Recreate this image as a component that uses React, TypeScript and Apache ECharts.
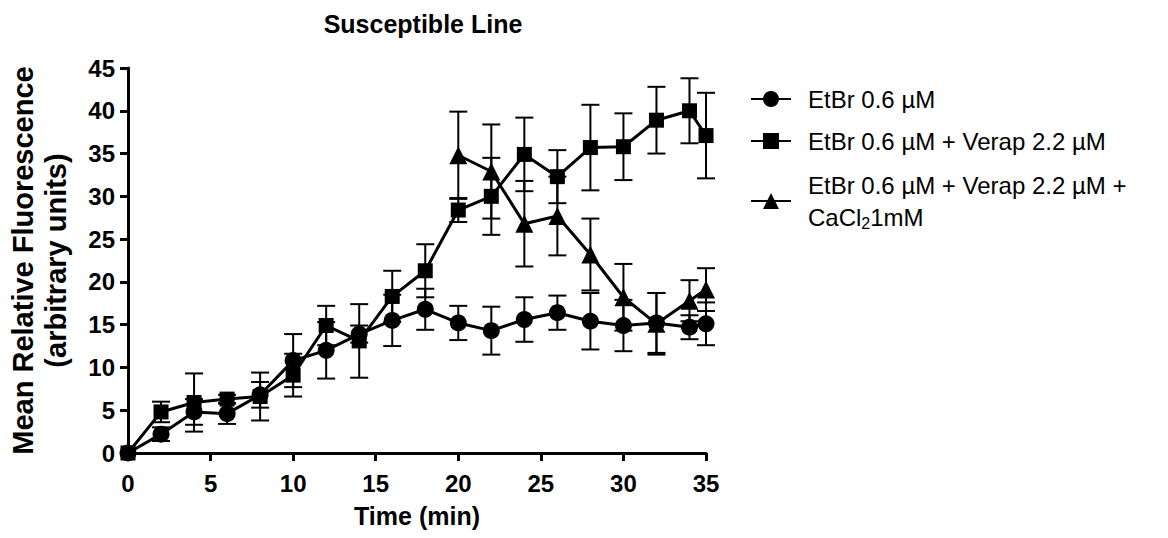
import React, { useEffect, useRef } from "react";
import * as echarts from "echarts";

const timePoints = [0, 2, 4, 6, 8, 10, 12, 14, 16, 18, 20, 22, 24, 26, 28, 30, 32, 34, 35];
const etbrMean = [0, 2.2, 4.8, 4.6, 6.8, 10.8, 12.0, 13.9, 15.5, 16.8, 15.2, 14.3, 15.6, 16.4, 15.4, 14.9, 15.2, 14.7, 15.1];
const etbrErr = [0, 0.8, 1.5, 1.2, 1.5, 3.1, 3.3, 1.0, 3.0, 2.4, 2.0, 2.8, 2.6, 2.0, 3.3, 3.0, 3.5, 1.4, 2.5];
const verapMean = [0, 4.8, 5.9, 6.3, 6.6, 9.1, 14.9, 13.1, 18.3, 21.3, 28.4, 30.0, 34.9, 32.3, 35.7, 35.8, 38.9, 40.0, 37.1];
const verapErr = [0, 1.2, 3.4, 0.5, 2.8, 2.5, 2.3, 4.3, 3.0, 3.1, 1.4, 4.5, 4.3, 3.1, 5.0, 3.9, 3.9, 3.8, 5.0];
const caTime = [20, 22, 24, 26, 28, 30, 32, 34, 35];
const caMean = [34.8, 32.9, 26.8, 27.7, 23.2, 18.2, 15.1, 17.8, 19.1];
const caErr = [5.1, 5.5, 5.0, 4.6, 4.2, 3.9, 3.6, 2.4, 2.5];
const seriesNames = [
  "EtBr 0.6 µM",
  "EtBr 0.6 µM + Verap 2.2 µM",
  "EtBr 0.6 µM + Verap 2.2 µM + CaCl₂1mM",
];
const xTicks = { min: 0, max: 35, interval: 5 };
const yTicks = { min: 0, max: 45, interval: 5 };

const FONT = "'Liberation Sans', Arial, sans-serif";

function errData(xs: number[], m: number[], e: number[]) {
  return xs.map((x, i) => [x, m[i] - e[i], m[i] + e[i]]).filter((d) => d[2] > d[1]);
}

function errorSeries(data: number[][]) {
  return {
    type: "custom",
    silent: true,
    z: 1,
    data,
    encode: { x: 0, y: [1, 2] },
    renderItem: (params: any, api: any) => {
      const x = api.value(0);
      const lo = api.coord([x, api.value(1)]);
      const hi = api.coord([x, api.value(2)]);
      const w = 9;
      const style = { stroke: "#000", lineWidth: 2 };
      return {
        type: "group",
        children: [
          { type: "line", shape: { x1: lo[0], y1: lo[1], x2: hi[0], y2: hi[1] }, style },
          { type: "line", shape: { x1: lo[0] - w, y1: lo[1], x2: lo[0] + w, y2: lo[1] }, style },
          { type: "line", shape: { x1: hi[0] - w, y1: hi[1], x2: hi[0] + w, y2: hi[1] }, style },
        ],
      };
    },
  };
}

export default function App() {
  const ref = useRef<HTMLDivElement>(null);
  useEffect(() => {
    if (!ref.current) return;
    const chart = echarts.init(ref.current, null, { renderer: "svg" });
    const lineStyle = { color: "#000", width: 3 };
    const itemStyle = { color: "#000" };
    chart.setOption({
      animation: false,
      backgroundColor: "#fff",
      title: {
        text: "Susceptible Line",
        left: 418,
        top: 6,
        textAlign: "center",
        textStyle: { fontFamily: FONT, fontWeight: "bold", fontSize: 25, color: "#000" },
      },
      legend: {
        orient: "vertical",
        left: 745,
        top: 80,
        itemWidth: 40,
        itemHeight: 20,
        itemGap: 14,
        selectedMode: false,
        data: seriesNames,
        textStyle: {
          fontFamily: FONT,
          fontSize: 24,
          color: "#000",
          padding: [0, 0, 0, 12],
          lineHeight: 28,
          rich: {
            a: { fontFamily: FONT, fontSize: 24, color: "#000", lineHeight: 32 },
            s: { fontFamily: FONT, fontSize: 16, color: "#000", padding: [12, 0, 0, 0], lineHeight: 32 },
          },
        },
        formatter: (name: string) => {
          if (name.indexOf("CaCl") >= 0) {
            return "{a|EtBr 0.6 µM + Verap 2.2 µM +}\n{a|CaCl}{s|2}{a|1mM}";
          }
          return name;
        },
      },
      grid: { left: 128, right: 462, top: 68, bottom: 85, containLabel: false },
      xAxis: {
        type: "value",
        min: xTicks.min,
        max: xTicks.max,
        interval: xTicks.interval,
        name: "Time (min)",
        nameLocation: "middle",
        nameGap: 50,
        nameTextStyle: { fontFamily: FONT, fontWeight: "bold", fontSize: 25, color: "#000" },
        axisLine: { lineStyle: { color: "#000", width: 3 } },
        axisTick: { show: true, inside: false, length: 8, lineStyle: { color: "#000", width: 3 } },
        axisLabel: { margin: 18, fontFamily: FONT, fontWeight: "bold", fontSize: 24, color: "#000" },
        splitLine: { show: false },
      },
      yAxis: {
        type: "value",
        min: yTicks.min,
        max: yTicks.max,
        interval: yTicks.interval,
        name: "Mean Relative Fluorescence\n(arbitrary units)",
        nameLocation: "middle",
        nameGap: 56,
        nameTextStyle: { fontFamily: FONT, fontWeight: "bold", fontSize: 29, color: "#000", lineHeight: 33 },
        axisLine: { lineStyle: { color: "#000", width: 3 } },
        axisTick: { show: true, inside: false, length: 8, lineStyle: { color: "#000", width: 3 } },
        axisLabel: { margin: 13, fontFamily: FONT, fontWeight: "bold", fontSize: 24, color: "#000" },
        splitLine: { show: false },
      },
      series: [
        errorSeries(errData(timePoints, etbrMean, etbrErr)),
        errorSeries(errData(timePoints, verapMean, verapErr)),
        errorSeries(errData(caTime, caMean, caErr)),
        {
          name: seriesNames[0],
          type: "line",
          z: 3,
          data: timePoints.map((x, i) => [x, etbrMean[i]]),
          symbol: "circle",
          symbolSize: 17,
          showAllSymbol: true,
          lineStyle,
          itemStyle,
        },
        {
          name: seriesNames[1],
          type: "line",
          z: 3,
          data: timePoints.map((x, i) => [x, verapMean[i]]),
          symbol: "rect",
          symbolSize: 15,
          showAllSymbol: true,
          lineStyle,
          itemStyle,
        },
        {
          name: seriesNames[2],
          type: "line",
          z: 3,
          data: caTime.map((x, i) => [x, caMean[i]]),
          symbol: "triangle",
          symbolSize: 18,
          showAllSymbol: true,
          lineStyle,
          itemStyle,
        },
      ],
    });
    return () => chart.dispose();
  }, []);
  return <div ref={ref} style={{ position: "fixed", left: 0, top: 0, width: 1168, height: 538 }} />;
}
